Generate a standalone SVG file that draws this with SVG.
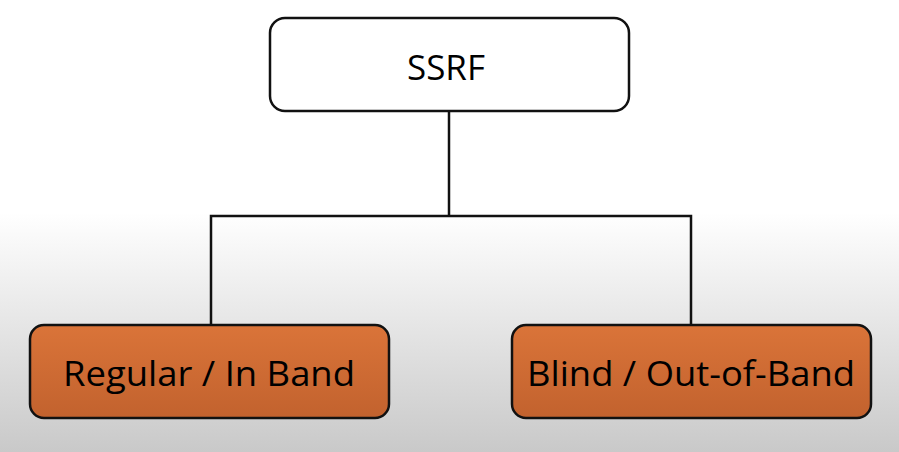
<svg xmlns="http://www.w3.org/2000/svg" width="899" height="452" viewBox="0 0 899 452">
  <defs>
    <linearGradient id="bg" x1="0" y1="0" x2="0" y2="1">
      <stop offset="0" stop-color="#ffffff"/>
      <stop offset="0.47" stop-color="#ffffff"/>
      <stop offset="1" stop-color="#c9c9c9"/>
    </linearGradient>
    <linearGradient id="orange" x1="0" y1="0" x2="0" y2="1">
      <stop offset="0" stop-color="#da7439"/>
      <stop offset="1" stop-color="#c2622e"/>
    </linearGradient>
    <style>
      .box { stroke: #111; stroke-width: 2.5; }
      .white { fill: #ffffff; }
      .orange { fill: url(#orange); }
      .label { font-family: "Open Sans", "Liberation Sans", sans-serif; fill: #000; text-anchor: middle; }
      .conn { fill: none; stroke: #111; stroke-width: 2.5; }
    </style>
  </defs>
  <rect x="0" y="0" width="899" height="452" fill="url(#bg)"/>
  <g id="connectors">
    <path class="conn" d="M449,111 V215.5"/>
    <path class="conn" d="M211,327 V216 H691 V327"/>
  </g>
  <g id="node-ssrf">
    <rect class="box white" x="270" y="18" width="359" height="93" rx="15"/>
    <text class="label" x="446" y="80" font-size="35" textLength="78" lengthAdjust="spacingAndGlyphs">SSRF</text>
  </g>
  <g id="node-regular">
    <rect class="box orange" x="30" y="325" width="359" height="93" rx="14"/>
    <text class="label" x="209" y="386" font-size="35" textLength="292" lengthAdjust="spacingAndGlyphs">Regular / In Band</text>
  </g>
  <g id="node-blind">
    <rect class="box orange" x="512" y="325" width="359" height="93" rx="14"/>
    <text class="label" x="691" y="386" font-size="35" textLength="328" lengthAdjust="spacingAndGlyphs">Blind / Out-of-Band</text>
  </g>
</svg>
